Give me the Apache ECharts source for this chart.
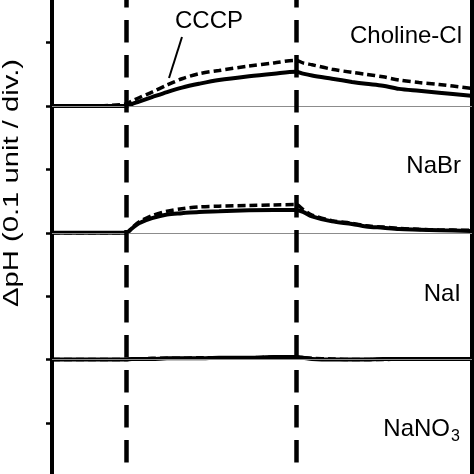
<!DOCTYPE html>
<html>
<head>
<meta charset="utf-8">
<script src="https://cdn.jsdelivr.net/npm/echarts@6/dist/echarts.min.js"></script>
<style>
  html, body { margin: 0; padding: 0; background: #fff; }
  #chart { width: 474px; height: 474px; }
</style>
</head>
<body>
<div id="chart"></div>
<script>
// time axis (s), shared by every trace
const times = [0, 40, 74, 80, 87, 100, 115, 130, 147, 167, 197, 222, 244, 251, 260, 280, 300, 314, 331, 347, 367, 387, 419]

// stimulus markers (vertical dashed lines)
const eventTimes = [74, 244]

// pH shift in divisions (0.1 unit / div.), relative to each trace's own baseline
const cholineSolid = [0, 0, 0, 0.03, 0.07, 0.14, 0.22, 0.29, 0.35, 0.41, 0.47, 0.51, 0.54, 0.51, 0.48, 0.43, 0.38, 0.35, 0.32, 0.27, 0.24, 0.21, 0.16]
const cholineCCCP = [0, 0, 0.03, 0.08, 0.13, 0.22, 0.33, 0.43, 0.51, 0.56, 0.63, 0.68, 0.72, 0.68, 0.65, 0.58, 0.53, 0.50, 0.46, 0.41, 0.37, 0.34, 0.28]
const nabrSolid = [0, 0, 0, 0.07, 0.15, 0.23, 0.29, 0.31, 0.33, 0.34, 0.355, 0.36, 0.36, 0.33, 0.26, 0.18, 0.14, 0.10, 0.08, 0.06, 0.05, 0.04, 0.03]
const nabrCCCP = [0, 0, 0, 0.08, 0.17, 0.27, 0.34, 0.38, 0.41, 0.42, 0.43, 0.44, 0.445, 0.37, 0.28, 0.19, 0.15, 0.11, 0.09, 0.07, 0.055, 0.045, 0.04]
const naiSolid = [0, 0, 0, 0.01, 0.01, 0.01, 0.02, 0.02, 0.02, 0.03, 0.03, 0.04, 0.04, 0.03, 0.01, 0, 0, 0, 0.01, 0.01, 0.01, 0.01, 0.01]
const naiCCCP = [0, 0, 0, 0.01, 0.01, 0.02, 0.02, 0.02, 0.03, 0.03, 0.03, 0.04, 0.04, 0.03, 0.02, 0.01, 0, 0, 0, 0.01, 0.01, 0.01, 0.01]

// vertical offset of each salt's trace (divisions)
const saltNames = ['Choline-Cl', 'NaBr', 'NaI', 'NaNO3']
const baselines = [0, -2, -4, -6]

// y range in divisions
const yMin = -7
const yMax = 2

const FONT = '"Liberation Sans", Arial, sans-serif'

const toPairs = (values, offset) => times.map((t, i) => [t, values[i] + offset])

const solidLine = (name, values, offset) => ({
  name,
  type: 'line',
  data: toPairs(values, offset),
  showSymbol: false,
  smooth: 0.3,
  z: 3,
  lineStyle: { color: '#000', width: 4 }
})

const dashedLine = (name, values, offset) => ({
  name,
  type: 'line',
  data: toPairs(values, offset),
  showSymbol: false,
  smooth: 0.3,
  z: 4,
  lineStyle: { color: '#000', width: 3.5, type: [8, 4] }
})

const chart = echarts.init(document.getElementById('chart'))

chart.setOption({
  animation: false,
  grid: {
    left: 52,
    right: 2,
    top: -20.8,
    bottom: -75.8,
    outerBoundsMode: 'none',
    containLabel: false,
    show: true,
    borderColor: '#000',
    borderWidth: 4,
    backgroundColor: 'transparent'
  },
  xAxis: {
    type: 'value',
    min: 0,
    max: 420,
    show: false
  },
  yAxis: {
    type: 'value',
    min: yMin,
    max: yMax,
    interval: 1,
    axisLine: { show: true, lineStyle: { color: '#000', width: 4 } },
    axisTick: { show: true, length: 6, lineStyle: { color: '#000', width: 2.5 } },
    axisLabel: { show: false },
    splitLine: { show: false }
  },
  series: [
    {
      name: 'baselines',
      type: 'line',
      data: [],
      z: 1,
      markLine: {
        silent: true,
        symbol: 'none',
        label: { show: false },
        lineStyle: { color: '#8c8c8c', width: 1.2, type: 'solid' },
        data: baselines.map(v => ({ yAxis: v }))
      }
    },
    {
      name: 'events',
      type: 'line',
      data: [],
      z: 2,
      markLine: {
        silent: true,
        symbol: 'none',
        label: { show: false },
        lineStyle: { color: '#000', width: 4.5, type: [22.5, 12.5], dashOffset: 29.2 },
        // drawn top to bottom so the dash phase is predictable
        data: eventTimes.map(t => [{ xAxis: t, yAxis: yMax }, { xAxis: t, yAxis: yMin }])
      }
    },
    solidLine('Choline-Cl', cholineSolid, baselines[0]),
    dashedLine('Choline-Cl CCCP', cholineCCCP, baselines[0]),
    solidLine('NaBr', nabrSolid, baselines[1]),
    dashedLine('NaBr CCCP', nabrCCCP, baselines[1]),
    solidLine('NaI', naiSolid, baselines[2]),
    dashedLine('NaI CCCP', naiCCCP, baselines[2])
  ],
  graphic: [
    {
      type: 'text',
      x: 12,
      y: 183,
      rotation: Math.PI / 2,
      scaleX: 1.3,
      style: {
        text: 'ΔpH (0.1 unit / div.)',
        font: '22.5px ' + FONT,
        fill: '#000',
        align: 'center',
        verticalAlign: 'middle'
      }
    },
    {
      type: 'text',
      x: 175,
      y: 21,
      style: { text: 'CCCP', font: '24px ' + FONT, fill: '#000', align: 'left', verticalAlign: 'middle' }
    },
    {
      type: 'line',
      shape: { x1: 182, y1: 37, x2: 169, y2: 78 },
      style: { stroke: '#000', lineWidth: 2 }
    },
    {
      type: 'text',
      x: 462,
      y: 36,
      style: { text: saltNames[0], font: '24px ' + FONT, fill: '#000', align: 'right', verticalAlign: 'middle' }
    },
    {
      type: 'text',
      x: 461,
      y: 166.5,
      style: { text: saltNames[1], font: '24px ' + FONT, fill: '#000', align: 'right', verticalAlign: 'middle' }
    },
    {
      type: 'text',
      x: 461,
      y: 294,
      style: { text: saltNames[2], font: '24px ' + FONT, fill: '#000', align: 'right', verticalAlign: 'middle' }
    },
    {
      type: 'text',
      x: 450,
      y: 429.5,
      style: { text: 'NaNO', font: '24px ' + FONT, fill: '#000', align: 'right', verticalAlign: 'middle' }
    },
    {
      type: 'text',
      x: 451,
      y: 437,
      style: { text: '3', font: '16px ' + FONT, fill: '#000', align: 'left', verticalAlign: 'middle' }
    }
  ]
})
</script>
</body>
</html>
